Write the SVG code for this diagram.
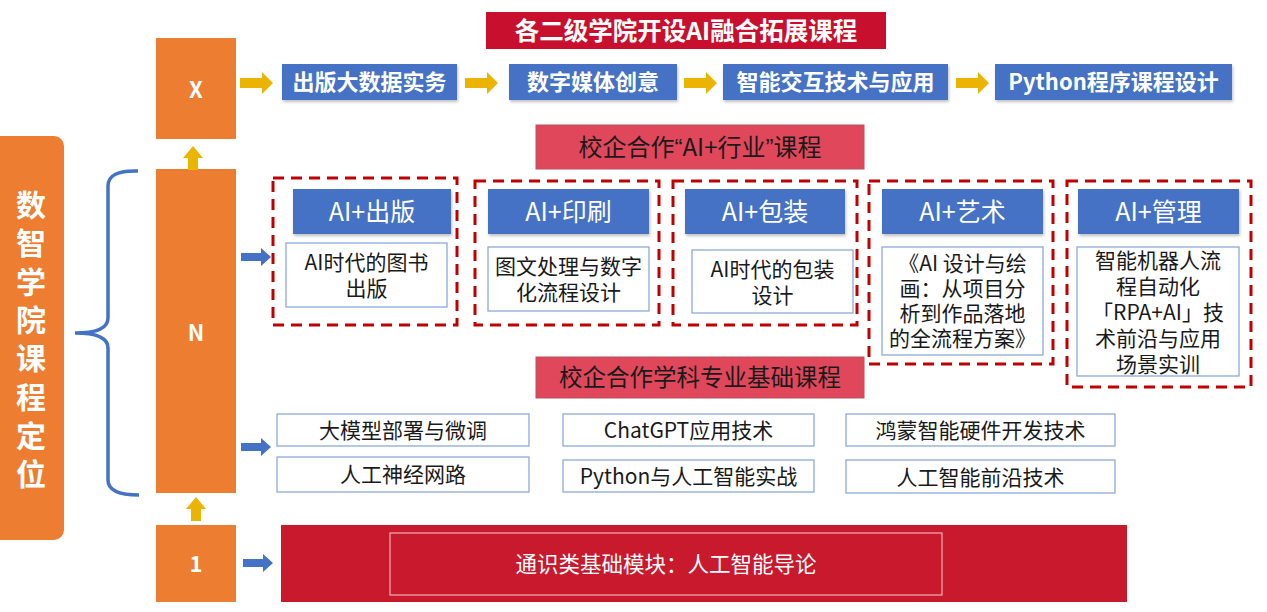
<svg xmlns="http://www.w3.org/2000/svg" width="1267" height="612" viewBox="0 0 1267 612">
<defs>
<style>
.cjk{font-family:"Noto Sans CJK SC","Noto Sans",sans-serif}
.org{fill:#ED7D31}
.blue{fill:#4472C4}
.wb{fill:#FFFFFF;stroke:#8EA9DB;stroke-width:1.3}
.dash{fill:none;stroke:#C00000;stroke-width:3;stroke-dasharray:11 7}
.tw{fill:#FFFFFF}
.td{fill:#1A1A1A}
.bold{font-weight:700}
.ya{fill:#EBB400}
.ba{fill:#4472C4}
.q{font-family:"Liberation Sans",sans-serif}
</style>
<filter id="sh" x="-10%" y="-20%" width="120%" height="150%">
<feDropShadow dx="1" dy="2" stdDeviation="1.5" flood-color="#000" flood-opacity="0.25"/>
</filter>
<polygon id="yarrow" points="0,-5 22,-5 22,-11 33,0 22,11 22,5 0,5"/>
<polygon id="barrow" points="0,-4 20,-4 20,-9 30,0 20,9 20,4 0,4"/>
<polygon id="uarrow" points="-5,24 -5,12 -10,12 0,0 10,12 5,12 5,24"/>
</defs>
<rect width="1267" height="612" fill="#FFFFFF"/>

<g id="side">
<rect x="-12" y="136" width="76" height="404" rx="10" class="org"/>
<g class="cjk tw bold" font-size="30" text-anchor="middle">
<text x="31" y="216">数</text>
<text x="31" y="254">智</text>
<text x="31" y="293">学</text>
<text x="31" y="331">院</text>
<text x="31" y="369">课</text>
<text x="31" y="408">程</text>
<text x="31" y="447">定</text>
<text x="31" y="485">位</text>
</g>
</g>

<g id="brace">
<path d="M138,171 Q108,170 108,186 L108,318 Q108,333 75,333 Q108,333 108,348 L108,480 Q108,495 139,495" fill="none" stroke="#4472C4" stroke-width="3.5"/>
</g>

<g id="nodeX">
<rect x="156" y="38" width="80" height="101" class="org"/>
<text x="196" y="98" class="cjk tw bold" font-size="22" text-anchor="middle">X</text>
</g>
<g id="nodeN">
<rect x="156" y="169" width="80" height="324" class="org"/>
<text x="196" y="341" class="cjk tw bold" font-size="22" text-anchor="middle">N</text>
</g>
<g id="node1">
<rect x="156" y="525" width="80" height="77" class="org"/>
<text x="196" y="572" class="cjk tw bold" font-size="22" text-anchor="middle">1</text>
</g>

<g id="title1">
<rect x="486" y="12" width="400" height="37" fill="#C8102E"/>
<text x="686" y="39.500" class="cjk tw bold" font-size="24.500" text-anchor="middle">各二级学院开设AI融合拓展课程</text>
</g>

<g id="x-row" class="cjk tw bold" font-size="22" text-anchor="middle">
<g id="x1"><rect x="282" y="64" width="175" height="36" class="blue" filter="url(#sh)"/><text x="369.500" y="90">出版大数据实务</text></g>
<g id="x2"><rect x="509" y="64" width="168" height="36" class="blue" filter="url(#sh)"/><text x="593" y="90">数字媒体创意</text></g>
<g id="x3"><rect x="723" y="64" width="225" height="36" class="blue" filter="url(#sh)"/><text x="835.500" y="90">智能交互技术与应用</text></g>
<g id="x4"><rect x="995" y="64" width="237" height="36" class="blue" filter="url(#sh)"/><text x="1113.500" y="90">Python程序课程设计</text></g>
</g>

<g id="title2">
<rect x="536" y="125" width="328" height="44" fill="#E1475A" stroke="#B85060" stroke-width="1"/>
<text x="700" y="156" class="cjk td" font-size="24" text-anchor="middle">校企合作<tspan class="q">“</tspan>AI+行业<tspan class="q">”</tspan>课程</text>
</g>

<g id="ai1">
<rect x="273" y="178" width="184" height="147" class="dash"/>
<rect x="293" y="189" width="158" height="45" class="blue" filter="url(#sh)"/>
<text x="372" y="221" class="cjk tw" font-size="25" text-anchor="middle">AI+出版</text>
<rect x="286" y="243" width="161" height="64" class="wb"/>
<text class="cjk td" font-size="21" text-anchor="middle"><tspan x="366.500" y="270">AI时代的图书</tspan><tspan x="366.500" y="296">出版</tspan></text>
</g>
<g id="ai2">
<rect x="475" y="181" width="184" height="144" class="dash"/>
<rect x="488" y="189" width="161" height="45" class="blue" filter="url(#sh)"/>
<text x="568.500" y="221" class="cjk tw" font-size="25" text-anchor="middle">AI+印刷</text>
<rect x="488" y="247" width="161" height="64" class="wb"/>
<text class="cjk td" font-size="21" text-anchor="middle"><tspan x="568.500" y="274">图文处理与数字</tspan><tspan x="568.500" y="300">化流程设计</tspan></text>
</g>
<g id="ai3">
<rect x="673" y="181" width="184" height="144" class="dash"/>
<rect x="685" y="189" width="160" height="45" class="blue" filter="url(#sh)"/>
<text x="765" y="221" class="cjk tw" font-size="25" text-anchor="middle">AI+包装</text>
<rect x="692" y="250" width="161" height="63" class="wb"/>
<text class="cjk td" font-size="21" text-anchor="middle"><tspan x="772.500" y="277">AI时代的包装</tspan><tspan x="772.500" y="303">设计</tspan></text>
</g>
<g id="ai4">
<rect x="869" y="181" width="184" height="183" class="dash"/>
<rect x="882" y="189" width="161" height="45" class="blue" filter="url(#sh)"/>
<text x="962.500" y="221" class="cjk tw" font-size="25" text-anchor="middle">AI+艺术</text>
<rect x="882" y="247" width="161" height="108" class="wb"/>
<text class="cjk td" font-size="21" text-anchor="middle"><tspan x="962.500" y="271">《AI 设计与绘</tspan><tspan x="962.500" y="296">画：从项目分</tspan><tspan x="962.500" y="321">析到作品落地</tspan><tspan x="962.500" y="346">的全流程方案》</tspan></text>
</g>
<g id="ai5">
<rect x="1067" y="181" width="184" height="206" class="dash"/>
<rect x="1078" y="189" width="161" height="45" class="blue" filter="url(#sh)"/>
<text x="1158.500" y="221" class="cjk tw" font-size="25" text-anchor="middle">AI+管理</text>
<rect x="1077" y="247" width="162" height="129" class="wb"/>
<text class="cjk td" font-size="21" text-anchor="middle"><tspan x="1158" y="268">智能机器人流</tspan><tspan x="1158" y="294">程自动化</tspan><tspan x="1158" y="320">「RPA+AI」技</tspan><tspan x="1158" y="346">术前沿与应用</tspan><tspan x="1158" y="372">场景实训</tspan></text>
</g>

<g id="title3">
<rect x="536" y="357" width="328" height="41" fill="#E1475A" stroke="#B85060" stroke-width="1"/>
<text x="700" y="386" class="cjk td" font-size="23.500" text-anchor="middle">校企合作学科专业基础课程</text>
</g>

<g id="base" class="cjk td" font-size="21" text-anchor="middle">
<g id="b1"><rect x="277" y="414" width="252" height="32" class="wb"/><text x="403" y="438">大模型部署与微调</text></g>
<g id="b2"><rect x="277" y="457" width="252" height="35" class="wb"/><text x="403" y="482">人工神经网路</text></g>
<g id="b3"><rect x="563" y="414" width="251" height="32" class="wb"/><text x="688.500" y="438">ChatGPT应用技术</text></g>
<g id="b4"><rect x="563" y="460" width="251" height="32" class="wb"/><text x="688.500" y="484">Python与人工智能实战</text></g>
<g id="b5"><rect x="846" y="414" width="269" height="32" class="wb"/><text x="980.500" y="438">鸿蒙智能硬件开发技术</text></g>
<g id="b6"><rect x="846" y="460" width="269" height="33" class="wb"/><text x="980.500" y="485">人工智能前沿技术</text></g>
</g>

<g id="general">
<rect x="281" y="525" width="846" height="77" fill="#C8192D"/>
<rect x="390" y="533" width="552" height="62" fill="none" stroke="#F0B0B8" stroke-width="1.2"/>
<text x="666" y="572" class="cjk tw" font-size="21.500" text-anchor="middle">通识类基础模块：人工智能导论</text>
</g>

<g id="connectors">
<use href="#yarrow" x="240" y="83" class="ya"/>
<use href="#yarrow" x="465" y="83" class="ya"/>
<use href="#yarrow" x="684" y="83" class="ya"/>
<use href="#yarrow" x="956" y="83" class="ya"/>
<use href="#uarrow" x="193" y="146" class="ya"/>
<use href="#uarrow" x="196" y="497" class="ya"/>
<use href="#barrow" x="241" y="257" class="ba"/>
<use href="#barrow" x="241" y="447" class="ba"/>
<use href="#barrow" x="243" y="563" class="ba"/>
</g>
</svg>
